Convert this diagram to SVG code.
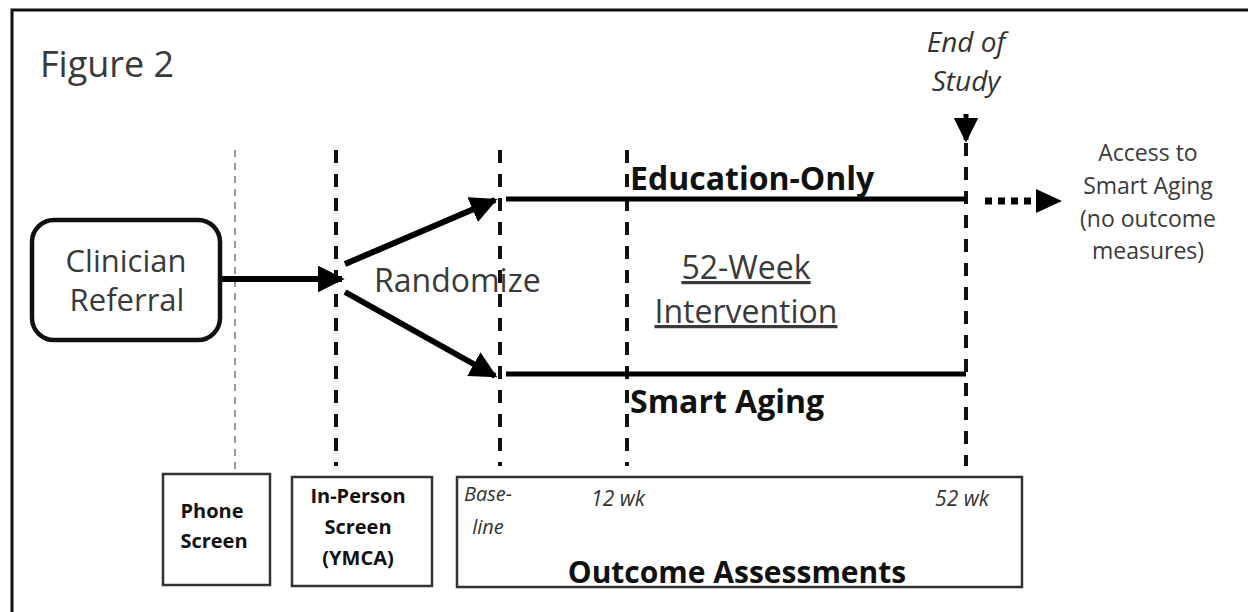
<svg xmlns="http://www.w3.org/2000/svg" width="1248" height="612" viewBox="0 0 1248 612">
<defs>
<style>
text{font-family:"Open Sans","Liberation Sans",sans-serif;fill:#3a3a3a}
.b{font-weight:bold;fill:#111}
.i{font-style:italic;fill:#333}
.dash{stroke:#111;stroke-width:4;stroke-dasharray:13 11;fill:none}
.thin{stroke:#999;stroke-width:2;stroke-dasharray:7 6;fill:none}
.bar{stroke:#000;stroke-width:5;fill:none}
.arr{stroke:#000;stroke-width:6;fill:none}
.box{fill:#fff;stroke:#333;stroke-width:2.5}
</style>
<marker id="ah" viewBox="0 0 10 10" refX="9" refY="5" markerWidth="4.5" markerHeight="4.5" orient="auto" markerUnits="strokeWidth"><path d="M0,0 L10,5 L0,10 z" fill="#000"/></marker>
<marker id="ah2" viewBox="0 0 10 10" refX="9" refY="5" markerWidth="5" markerHeight="5" orient="auto" markerUnits="strokeWidth"><path d="M0,0 L10,5 L0,10 z" fill="#000"/></marker>
</defs>
<rect width="1248" height="612" fill="#fff"/>
<path d="M12,612 V10 H1248" stroke="#111" stroke-width="3" fill="none"/>
<text x="40" y="77" font-size="36" fill="#333">Figure 2</text>

<g id="timeline-lines">
<line class="thin" x1="235" y1="150" x2="235" y2="472"/>
<line class="dash" x1="336" y1="150" x2="336" y2="466"/>
<line class="dash" x1="500" y1="150" x2="500" y2="466"/>
<line class="dash" x1="627" y1="150" x2="627" y2="466"/>
<line class="dash" x1="966" y1="143" x2="966" y2="466"/>
</g>

<g id="clinician-referral">
<rect x="32" y="220" width="188" height="120" rx="22" fill="#fff" stroke="#111" stroke-width="4.5"/>
<text x="126" y="272" font-size="31" text-anchor="middle">Clinician</text>
<text x="127" y="311" font-size="31" text-anchor="middle">Referral</text>
</g>

<g id="connectors">
<line class="arr" x1="222" y1="279" x2="342" y2="279" marker-end="url(#ah)"/>
<line class="arr" x1="345" y1="264" x2="495" y2="200" marker-end="url(#ah)"/>
<line class="arr" x1="345" y1="292" x2="495" y2="376" marker-end="url(#ah)"/>
<line class="bar" x1="506" y1="199" x2="966" y2="199"/>
<line class="bar" x1="506" y1="374" x2="966" y2="374"/>
<line stroke="#000" stroke-width="5" x1="966" y1="114" x2="966" y2="140" marker-end="url(#ah2)"/>
<line stroke="#000" stroke-width="7" stroke-dasharray="7 6" x1="985" y1="201" x2="1036" y2="201"/>
<path d="M1036,189 L1062,201 L1036,213 z" fill="#000"/>
</g>

<g id="randomize"><text x="374" y="292" font-size="32">Randomize</text></g>

<g id="education-only"><text class="b" x="630" y="190" font-size="32">Education-Only</text></g>
<g id="smart-aging"><text class="b" x="630" y="413" font-size="32">Smart Aging</text></g>

<g id="intervention">
<text x="746" y="279" font-size="32" text-anchor="middle" text-decoration="underline">52-Week</text>
<text x="746" y="323" font-size="32" text-anchor="middle" text-decoration="underline">Intervention</text>
</g>

<g id="end-of-study">
<text class="i" x="966" y="52" font-size="28" text-anchor="middle">End of</text>
<text class="i" x="966" y="91" font-size="28" text-anchor="middle">Study</text>
</g>

<g id="access">
<text x="1148" y="161" font-size="23" text-anchor="middle">Access to</text>
<text x="1148" y="194" font-size="23" text-anchor="middle">Smart Aging</text>
<text x="1148" y="227" font-size="23" text-anchor="middle">(no outcome</text>
<text x="1148" y="259" font-size="23" text-anchor="middle">measures)</text>
</g>

<g id="phone-screen">
<rect class="box" x="163" y="474" width="107" height="111"/>
<text class="b" x="212" y="518" font-size="20" text-anchor="middle" fill="#333">Phone</text>
<text class="b" x="214" y="548" font-size="20" text-anchor="middle">Screen</text>
</g>

<g id="in-person-screen">
<rect class="box" x="292" y="477" width="140" height="109"/>
<text class="b" x="358" y="503" font-size="20" text-anchor="middle">In-Person</text>
<text class="b" x="358" y="534" font-size="20" text-anchor="middle">Screen</text>
<text class="b" x="358" y="565" font-size="20" text-anchor="middle">(YMCA)</text>
</g>

<g id="outcome-assessments">
<rect class="box" x="457" y="477" width="565" height="110"/>
<text class="i" x="488" y="501" font-size="20" text-anchor="middle">Base-</text>
<text class="i" x="488" y="534" font-size="20" text-anchor="middle">line</text>
<text class="i" x="618" y="506" font-size="21" text-anchor="middle">12 wk</text>
<text class="i" x="962" y="506" font-size="21" text-anchor="middle">52 wk</text>
<text class="b" x="737" y="583" font-size="30" text-anchor="middle">Outcome Assessments</text>
</g>
</svg>
